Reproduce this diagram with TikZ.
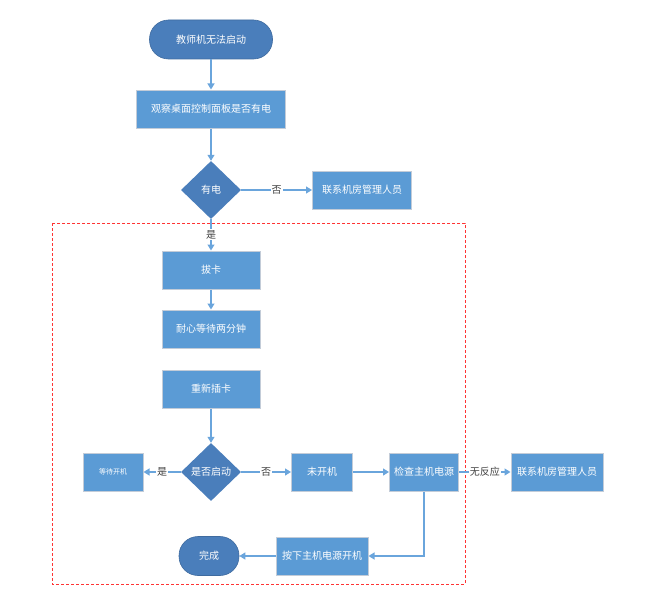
\documentclass[tikz,border=0pt]{standalone}
\usepackage{fontspec}
\newfontfamily\cjk{Noto Sans CJK SC}
\usetikzlibrary{arrows.meta,positioning,shapes.geometric}
\definecolor{boxblue}{HTML}{5B9BD5}
\definecolor{darkblue}{HTML}{4A7EBB}
\definecolor{lineblue}{HTML}{6AA5DC}
\definecolor{boxedge}{HTML}{C3CCD8}
\definecolor{labelgrey}{HTML}{404040}
\tikzset{
  box/.style={rectangle,fill=boxblue,draw=boxedge,line width=1pt,text=white,minimum height=38pt,inner sep=2pt},
  term/.style={rectangle,rounded corners=19pt,fill=darkblue,draw=darkblue!85!black,line width=0.6pt,text=white,minimum height=39pt},
  decision/.style={diamond,aspect=1,fill=darkblue,text=white,minimum width=60pt,minimum height=58pt,inner sep=0pt},
  flow/.style={draw=lineblue,line width=1.2pt,-{Triangle[length=6pt,width=7pt]}},
  lbl/.style={fill=white,text=labelgrey,inner sep=1pt,font=\cjk\fontsize{10}{12}\selectfont}
}
\begin{document}
\begin{tikzpicture}[x=1pt,y=-1pt,on grid,node distance=60pt,font=\cjk\fontsize{10}{12}\selectfont]
\useasboundingbox (0,0) rectangle (648,602);
% dashed frame
\draw[red!80,line width=0.6pt,dash pattern=on 3pt off 2pt] (52,223) rectangle (465,584);

\node[term,minimum width=123pt] (start) at (211,39.5) {教师机无法启动};
\node[box,minimum width=149pt] [below=69.5pt of start] (watch) {观察桌面控制面板是否有电};
\node[decision] [below=81pt of watch] (power) {有电};
\node[box,minimum width=99pt] [right=151pt of power] (call1) {联系机房管理人员};
\node[box,minimum width=98pt] [below=80pt of power] (pull) {拔卡};
\node[box,minimum width=98pt] [below=59pt of pull] (wait) {耐心等待两分钟};
\node[box,minimum width=98pt] [below=60pt of wait] (insert) {重新插卡};
\node[decision] [below=83pt of insert] (boot) {是否启动};
\node[box,minimum width=60pt,font=\cjk\fontsize{7}{8}\selectfont] [left=98pt of boot] (waitboot) {等待开机};
\node[box,minimum width=61pt] [right=111pt of boot] (off) {未开机};
\node[box,minimum width=69pt] [right=102pt of off] (check) {检查主机电源};
\node[box,minimum width=92pt] [right=133pt of check] (call2) {联系机房管理人员};
\node[box,minimum width=92pt] [below=84pt of off] (press) {按下主机电源开机};
\node[term,minimum width=60pt] [left=113pt of press] (done) {完成};

\draw[flow] (start) -- (watch);
\draw[flow] (watch) -- (power);
\draw[flow] (power) -- node[lbl] {否} (call1);
\draw[flow] (power) -- node[lbl] {是} (pull);
\draw[flow] (pull) -- (wait);
\draw[flow] (insert) -- (boot);
\draw[flow] (boot) -- node[lbl] {是} (waitboot);
\draw[flow] (boot) -- node[lbl] {否} (off);
\draw[flow] (off) -- (check);
\draw[flow] (check) -- node[lbl] {无反应} (call2);
\draw[flow] (check.south) |- (press.east);
\draw[flow] (press) -- (done);
\end{tikzpicture}
\end{document}
